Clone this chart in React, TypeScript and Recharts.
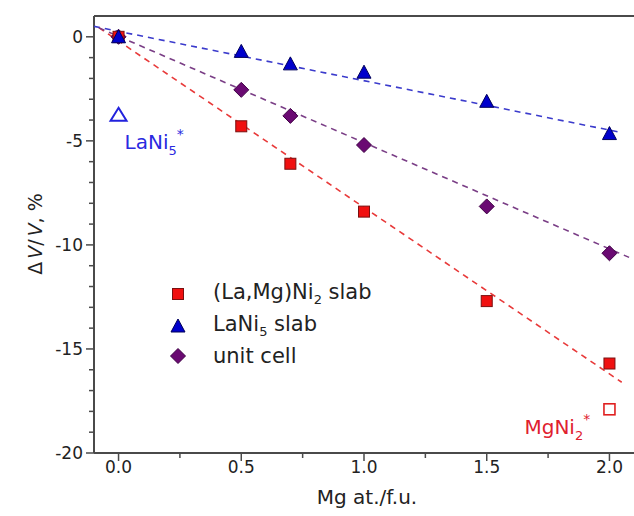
import React from 'react'
import { ScatterChart, Scatter, XAxis, YAxis, ReferenceLine } from 'recharts'

// Mg content, at./f.u.
const mgContent = [0, 0.5, 0.7, 1.0, 1.5, 2.0]
// ΔV/V, %
const laMgNi2Slab = [0, -4.3, -6.1, -8.4, -12.7, -15.7]
const laNi5Slab = [0, -0.7, -1.3, -1.7, -3.1, -4.65]
const unitCell = [0, -2.55, -3.8, -5.2, -8.15, -10.4]

// dashed linear fits (end points)
const fitRedX = [-0.08, 2.05]
const fitRedY = [0.44, -16.6]
const fitBlueX = [-0.1, 2.05]
const fitBlueY = [0.5, -4.6]
const fitPurpleX = [-0.08, 2.08]
const fitPurpleY = [0.43, -10.6]

// reference compounds
const laNi5Ref = [{ x: 0, y: -3.75 }]
const mgNi2Ref = [{ x: 2.0, y: -17.9 }]

const xTicks = [0, 0.25, 0.5, 0.75, 1.0, 1.25, 1.5, 1.75, 2.0]
const yTicks = Array.from({ length: 21 }, (_, i) => -20 + i)

const font = '"DejaVu Sans", sans-serif'
const axisColor = '#4a4a4a'

const toPoints = (xs: number[], ys: number[]) => xs.map((x, i) => ({ x, y: ys[i] }))

const YTick = (props: any) => {
  const { x, y, payload } = props
  const major = payload.value % 5 === 0
  return (
    <g>
      <line x1={x} x2={x - (major ? 8 : 5)} y1={y} y2={y} stroke={axisColor} strokeWidth={1.5} />
      {major && (
        <text x={x - 11} y={y} textAnchor="end" dominantBaseline="central" fontSize={17} fontFamily={font} fill="#222">
          {payload.value}
        </text>
      )}
    </g>
  )
}

const XTick = (props: any) => {
  const { x, y, payload } = props
  const major = Math.abs(payload.value * 2 - Math.round(payload.value * 2)) < 1e-6
  return (
    <g>
      <line x1={x} x2={x} y1={y} y2={y + (major ? 8 : 5)} stroke={axisColor} strokeWidth={1.5} />
      {major && (
        <text x={x} y={y + 20} textAnchor="middle" fontSize={17} fontFamily={font} fill="#222">
          {payload.value.toFixed(1)}
        </text>
      )}
    </g>
  )
}

const squareShape = (p: any) => (
  <rect x={p.cx - 5.5} y={p.cy - 5.5} width={11} height={11} fill="#f01010" stroke="#7a1010" strokeWidth={1} />
)
const triangleShape = (p: any) => (
  <polygon
    points={`${p.cx},${p.cy - 7} ${p.cx + 7},${p.cy + 6} ${p.cx - 7},${p.cy + 6}`}
    fill="#0000cc"
    stroke="#00005a"
    strokeWidth={1}
  />
)
const diamondShape = (p: any) => (
  <polygon
    points={`${p.cx},${p.cy - 7.5} ${p.cx + 7.5},${p.cy} ${p.cx},${p.cy + 7.5} ${p.cx - 7.5},${p.cy}`}
    fill="#6a0a72"
    stroke="#3e0044"
    strokeWidth={1}
  />
)
const noShape = () => <g />

const laNi5RefShape = (p: any) => (
  <g>
    <polygon
      points={`${p.cx},${p.cy - 7} ${p.cx + 8},${p.cy + 6} ${p.cx - 8},${p.cy + 6}`}
      fill="none"
      stroke="#2222dd"
      strokeWidth={2}
    />
    <text x={p.cx + 6} y={p.cy + 34} fontSize={20} fontFamily={font} fill="#2a2ae0">
      LaNi<tspan fontSize={13} dy={6}>5</tspan>
      <tspan fontSize={14} dy={-16}>*</tspan>
    </text>
  </g>
)
const mgNi2RefShape = (p: any) => (
  <g>
    <rect x={p.cx - 5.5} y={p.cy - 5.5} width={11} height={11} fill="none" stroke="#e02020" strokeWidth={1.6} />
    <text x={p.cx - 85} y={p.cy + 25} fontSize={20} fontFamily={font} fill="#e0202e">
      MgNi<tspan fontSize={13} dy={6}>2</tspan>
      <tspan fontSize={14} dy={-16}>*</tspan>
    </text>
  </g>
)

const legendItems = [
  { key: 'sq', label: <>(La,Mg)Ni<sub style={{ fontSize: 13 }}>2</sub> slab</>, top: 280 },
  { key: 'tr', label: <>LaNi<sub style={{ fontSize: 13 }}>5</sub> slab</>, top: 312 },
  { key: 'di', label: <>unit cell</>, top: 342 },
]

const legendIcon = (key: string) => {
  if (key === 'sq') return <rect x={4.5} y={4.5} width={11} height={11} fill="#f01010" stroke="#7a1010" />
  if (key === 'tr') return <polygon points="10,3 17,16 3,16" fill="#0000cc" stroke="#00005a" />
  return <polygon points="10,2.5 17.5,10 10,17.5 2.5,10" fill="#6a0a72" stroke="#3e0044" />
}

export default function App() {
  return (
    <div style={{ position: 'absolute', left: 0, top: 0, width: 634, height: 516, background: '#fff' }}>
      <ScatterChart width={634} height={516} margin={{ top: 16, right: 0, bottom: 0, left: 0 }}>
        <XAxis
          type="number"
          dataKey="x"
          domain={[-0.1, 2.1]}
          ticks={xTicks}
          allowDataOverflow
          height={63}
          tickSize={0}
          tickMargin={0}
          tickLine={false}
          tick={<XTick />}
          axisLine={{ stroke: axisColor, strokeWidth: 2 }}
          interval={0}
        />
        <YAxis
          type="number"
          dataKey="y"
          domain={[-20, 1]}
          ticks={yTicks}
          allowDataOverflow
          width={94}
          tickSize={0}
          tickMargin={0}
          tickLine={false}
          tick={<YTick />}
          axisLine={{ stroke: axisColor, strokeWidth: 2 }}
          interval={0}
        />
        <ReferenceLine y={1} stroke={axisColor} strokeWidth={2} />
        <Scatter
          data={toPoints(fitRedX, fitRedY)}
          line={{ stroke: '#e83a3a', strokeWidth: 1.6, strokeDasharray: '6 5' }}
          shape={noShape}
          legendType="none"
          isAnimationActive={false}
        />
        <Scatter
          data={toPoints(fitBlueX, fitBlueY)}
          line={{ stroke: '#3b3bcc', strokeWidth: 1.6, strokeDasharray: '6 5' }}
          shape={noShape}
          legendType="none"
          isAnimationActive={false}
        />
        <Scatter
          data={toPoints(fitPurpleX, fitPurpleY)}
          line={{ stroke: '#7a3e86', strokeWidth: 1.6, strokeDasharray: '6 5' }}
          shape={noShape}
          legendType="none"
          isAnimationActive={false}
        />
        <Scatter data={toPoints(mgContent, unitCell)} shape={diamondShape} isAnimationActive={false} />
        <Scatter data={toPoints(mgContent, laMgNi2Slab)} shape={squareShape} isAnimationActive={false} />
        <Scatter data={toPoints(mgContent, laNi5Slab)} shape={triangleShape} isAnimationActive={false} />
        <Scatter data={laNi5Ref} shape={laNi5RefShape} isAnimationActive={false} />
        <Scatter data={mgNi2Ref} shape={mgNi2RefShape} isAnimationActive={false} />
      </ScatterChart>

      {legendItems.map((it) => (
        <div
          key={it.key}
          style={{
            position: 'absolute',
            left: 168,
            top: it.top,
            height: 28,
            display: 'flex',
            alignItems: 'center',
            fontFamily: font,
            fontSize: 21,
            color: '#222',
            whiteSpace: 'nowrap',
          }}
        >
          <svg width={20} height={20} style={{ marginRight: 25 }}>
            {legendIcon(it.key)}
          </svg>
          <span>{it.label}</span>
        </div>
      ))}

      <svg width={634} height={516} style={{ position: 'absolute', left: 0, top: 0, pointerEvents: 'none' }}>
        <text
          transform="translate(42 234) rotate(-90)"
          textAnchor="middle"
          fontSize={19}
          fontFamily={font}
          fill="#222"
        >
          Δ<tspan fontStyle="italic" dx={3}>V</tspan>/<tspan fontStyle="italic" dx={3}>V</tspan>, %
        </text>
        <text x={367} y={504} textAnchor="middle" fontSize={20} fontFamily={font} fill="#222">
          Mg at./f.u.
        </text>
      </svg>
    </div>
  )
}
